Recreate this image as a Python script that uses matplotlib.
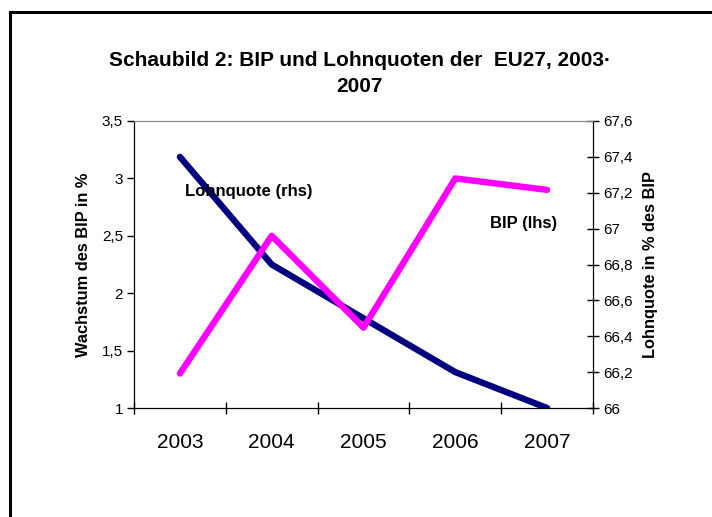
import matplotlib.pyplot as plt
from matplotlib.lines import Line2D
from matplotlib.ticker import FuncFormatter

plt.rcParams['font.family'] = ['Liberation Sans', 'DejaVu Sans']

years = ['2003', '2004', '2005', '2006', '2007']
bip = [1.3, 2.5, 1.7, 3.0, 2.9]          # Wachstum des BIP in % (lhs)
lohnquote = [67.4, 66.8, 66.5, 66.2, 66.0]  # Lohnquote in % des BIP (rhs)

x = list(range(len(years)))


def komma(v, pos):
    s = ('%.1f' % v).rstrip('0').rstrip('.')
    return s.replace('.', ',')


fig = plt.figure(figsize=(7.12, 5.17), dpi=100)
ax = fig.add_axes([134 / 712, 1 - 408 / 517, (593 - 134) / 712, (408 - 121) / 517])
ax2 = ax.twinx()

ax.plot(x, bip, color='#FF00FF', lw=4.6, solid_capstyle='round', zorder=3)
ax2.plot(x, lohnquote, color='#000080', lw=4.6, solid_capstyle='round', zorder=3)

ax.set_zorder(ax2.get_zorder() + 1)
ax.patch.set_visible(False)

ax.set_xlim(-0.5, len(years) - 0.5)
ax.set_ylim(1, 3.5)
ax.set_yticks([1, 1.5, 2, 2.5, 3, 3.5])
ax.yaxis.set_major_formatter(FuncFormatter(komma))
ax2.set_ylim(66, 67.6)
ax2.set_yticks([66, 66.2, 66.4, 66.6, 66.8, 67, 67.2, 67.4, 67.6])
ax2.yaxis.set_major_formatter(FuncFormatter(komma))

# category ticks between years, labels centred
ax.set_xticks([i - 0.5 for i in range(len(years) + 1)])
ax.set_xticklabels([''] * (len(years) + 1))
ax.set_xticks(x, minor=True)
ax.set_xticklabels(years, minor=True, fontsize=15)
ax.tick_params(axis='x', which='minor', length=0, pad=18)
ax.tick_params(axis='x', which='major', direction='inout', length=9, width=1)
ax.tick_params(axis='y', direction='out', length=5, width=1, labelsize=11, pad=3)
ax2.tick_params(axis='y', direction='inout', length=9, width=1, labelsize=11, pad=3)

for a in (ax, ax2):
    a.spines['top'].set_color('#888888')
    a.spines['left'].set_color('black')
    a.spines['right'].set_color('black')
    a.spines['bottom'].set_color('black')

ax.set_ylabel('Wachstum des BIP in %', fontsize=11.8, fontweight='bold', labelpad=8)
ax2.set_ylabel('Lohnquote in % des BIP', fontsize=11.8, fontweight='bold', labelpad=7)

ax.text(0.06, 2.89, 'Lohnquote (rhs)', fontsize=12, fontweight='bold',
        va='center', ha='left', zorder=5)
ax.text(3.38, 2.61, 'BIP (lhs)', fontsize=12, fontweight='bold',
        va='center', ha='left', zorder=5)

fig.text(0.505, 1 - 51 / 517, 'Schaubild 2: BIP und Lohnquoten der  EU27, 2003·\n2007',
         ha='center', va='top', fontsize=15, fontweight='bold', linespacing=1.45)

# outer frame (only left and top edges visible)
fig.add_artist(Line2D([10 / 712, 10 / 712], [0, 1 - 12 / 517], transform=fig.transFigure,
                      color='black', lw=2.2))
fig.add_artist(Line2D([10 / 712, 1], [1 - 12 / 517, 1 - 12 / 517], transform=fig.transFigure,
                      color='black', lw=2.2))

fig.savefig('out.png', dpi=100)
